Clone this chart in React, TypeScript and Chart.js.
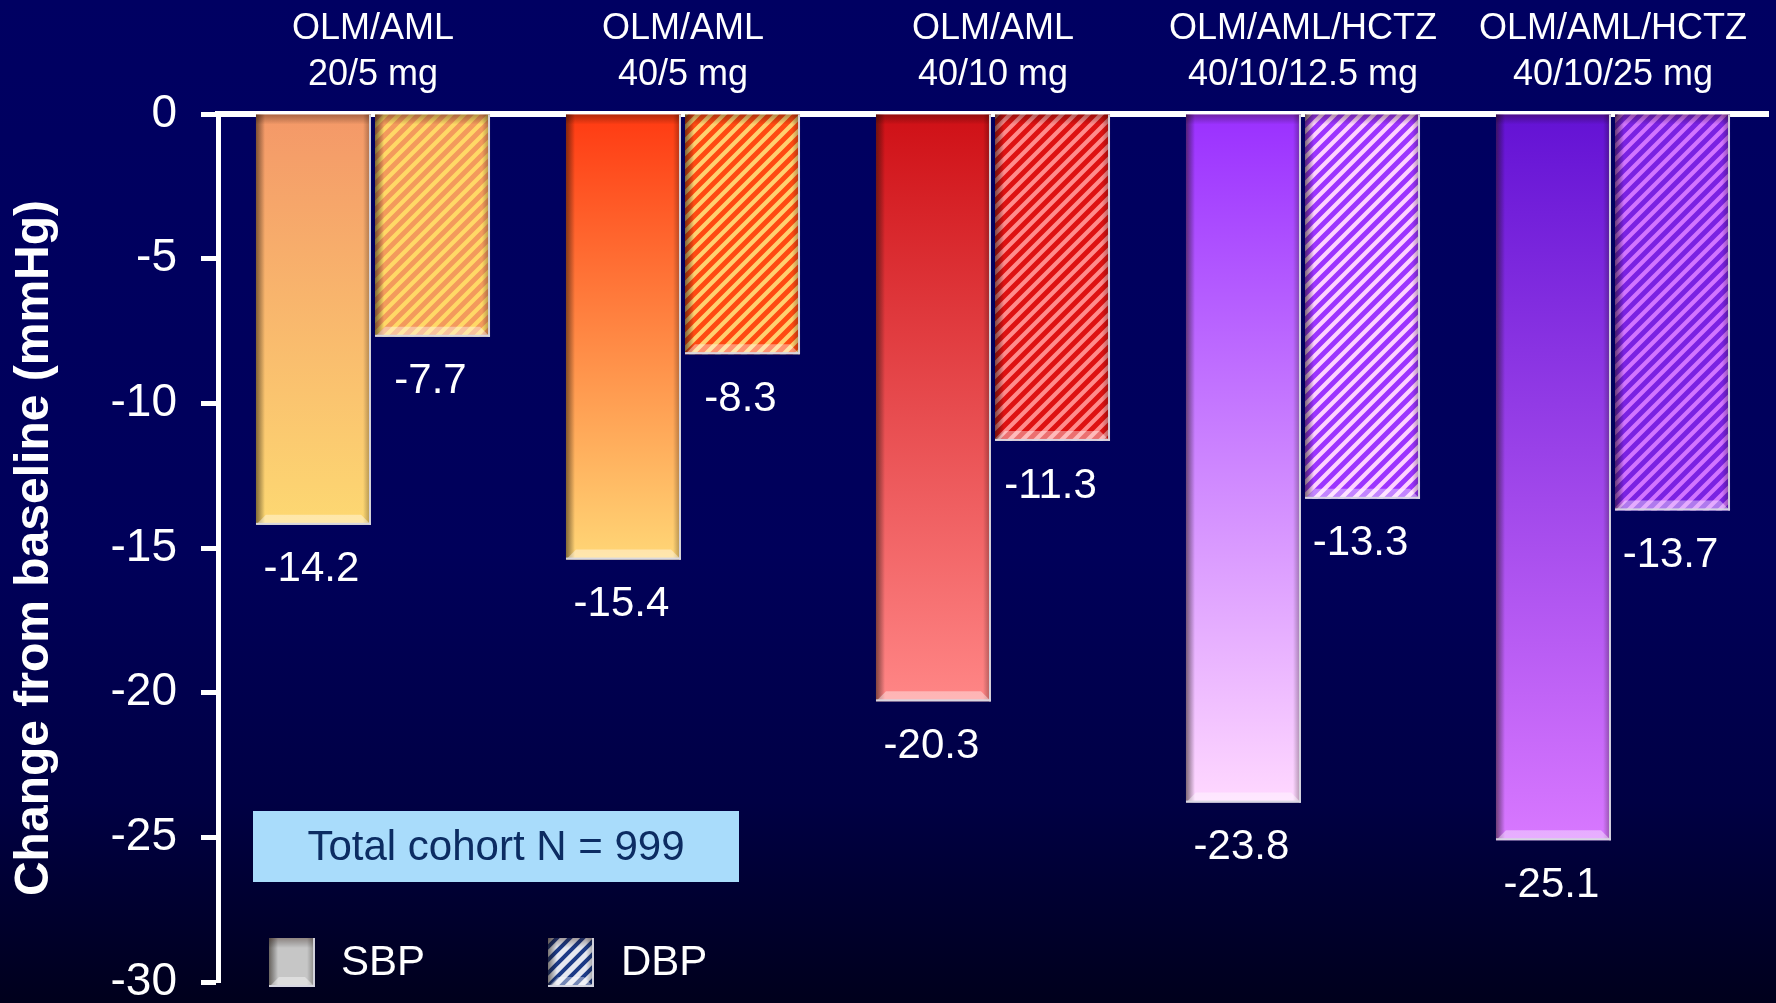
import React, { useEffect, useRef } from "react";
import { Chart, registerables } from "chart.js";

Chart.register(...registerables);

// Dose groups (two-line labels along the top axis)
const categories: string[][] = [
  ["OLM/AML", "20/5 mg"],
  ["OLM/AML", "40/5 mg"],
  ["OLM/AML", "40/10 mg"],
  ["OLM/AML/HCTZ", "40/10/12.5 mg"],
  ["OLM/AML/HCTZ", "40/10/25 mg"],
];

// Mean change from baseline (mmHg)
const sbpValues = [-14.2, -15.4, -20.3, -23.8, -25.1];
const dbpValues = [-7.7, -8.3, -11.3, -13.3, -13.7];

const yTicks = [0, -5, -10, -15, -20, -25, -30];
const seriesNames = ["SBP", "DBP"];
const axisTitle = "Change from baseline (mmHg)";
const cohortNote = "Total cohort N = 999";

// SBP bars: vertical gradient from the zero line to the bar end
const sbpTopColors = ["#F49868", "#FF3A12", "#CF1016", "#9A30FF", "#6312D4"];
const sbpBottomColors = ["#FDD872", "#FFD676", "#FF8686", "#FFD8FF", "#D878FF"];

// DBP bars: diagonal hatch
const dbpStripeColors = ["#F39A5C", "#FF4A12", "#DE1212", "#9C34FF", "#7A22E2"];
const dbpBaseColors = ["#FFD866", "#FFD070", "#FF8C8C", "#FFD2FF", "#D274FF"];

const FONT = "'Liberation Sans', Arial, Helvetica, sans-serif";

function makeStripes(base: string, stripe: string, size: number, lineW: number): CanvasPattern | string {
  const c = document.createElement("canvas");
  c.width = size;
  c.height = size;
  const g = c.getContext("2d");
  if (!g) return base;
  g.fillStyle = base;
  g.fillRect(0, 0, size, size);
  g.strokeStyle = stripe;
  g.lineWidth = lineW;
  g.lineCap = "square";
  g.beginPath();
  g.moveTo(0, size);
  g.lineTo(size, 0);
  g.moveTo(-size / 2, size / 2);
  g.lineTo(size / 2, -size / 2);
  g.moveTo(size / 2, size * 1.5);
  g.lineTo(size * 1.5, size / 2);
  g.stroke();
  const p = g.createPattern(c, "repeat");
  return p || base;
}

function drawBevel(ctx: CanvasRenderingContext2D, left: number, top: number, right: number, bottom: number) {
  const w = right - left;
  const h = bottom - top;
  if (h <= 0 || w <= 0) return;
  ctx.save();
  // shaded left edge
  let g = ctx.createLinearGradient(left, 0, left + 9, 0);
  g.addColorStop(0, "rgba(30,20,10,0.55)");
  g.addColorStop(1, "rgba(0,0,0,0)");
  ctx.fillStyle = g;
  ctx.fillRect(left, top, 9, h);
  // shaded right edge
  g = ctx.createLinearGradient(right - 8, 0, right, 0);
  g.addColorStop(0, "rgba(0,0,0,0)");
  g.addColorStop(1, "rgba(20,10,0,0.35)");
  ctx.fillStyle = g;
  ctx.fillRect(right - 8, top, 8, h);
  // shaded top edge
  g = ctx.createLinearGradient(0, top, 0, top + 10);
  g.addColorStop(0, "rgba(40,10,0,0.35)");
  g.addColorStop(1, "rgba(0,0,0,0)");
  ctx.fillStyle = g;
  ctx.fillRect(left, top, w, 10);
  // lit bottom facet
  const b = Math.min(10, h / 2);
  ctx.beginPath();
  ctx.moveTo(left, bottom);
  ctx.lineTo(right, bottom);
  ctx.lineTo(right - b, bottom - b);
  ctx.lineTo(left + b, bottom - b);
  ctx.closePath();
  ctx.fillStyle = "rgba(255,255,255,0.4)";
  ctx.fill();
  // thin light rims on the right and bottom
  ctx.fillStyle = "rgba(215,215,225,0.95)";
  ctx.fillRect(right - 2, top, 2, h);
  ctx.fillRect(left, bottom - 2, w, 2);
  ctx.restore();
}

const backgroundPlugin = {
  id: "slideBackground",
  beforeDraw(chart: Chart) {
    const { ctx, width, height } = chart;
    ctx.save();
    const g = ctx.createLinearGradient(0, 0, 0, height);
    g.addColorStop(0, "#000062");
    g.addColorStop(0.55, "#00005A");
    g.addColorStop(0.8, "#000044");
    g.addColorStop(1, "#00001C");
    ctx.fillStyle = g;
    ctx.fillRect(0, 0, width, height);
    ctx.restore();
  },
};

const barDecorPlugin = {
  id: "barDecor",
  afterDatasetsDraw(chart: Chart) {
    const { ctx } = chart;
    chart.data.datasets.forEach((ds, di) => {
      const meta = chart.getDatasetMeta(di);
      meta.data.forEach((el: any, i: number) => {
        const half = el.width / 2;
        const top = Math.min(el.y, el.base);
        const bottom = Math.max(el.y, el.base);
        drawBevel(ctx, el.x - half, top, el.x + half, bottom);
        const v = ds.data[i] as number;
        ctx.save();
        ctx.fillStyle = "#FFFFFF";
        ctx.font = `42px ${FONT}`;
        ctx.textAlign = "center";
        ctx.textBaseline = "middle";
        ctx.fillText(v.toFixed(1), el.x - 2, bottom + 45);
        ctx.restore();
      });
    });
  },
};

const notesPlugin = {
  id: "notesAndLegend",
  afterDraw(chart: Chart) {
    const { ctx, chartArea } = chart;
    const L = chartArea.left;
    ctx.save();
    // cohort box
    const bx = L + 35;
    const by = 811;
    const bw = 486;
    const bh = 71;
    ctx.fillStyle = "#A9DCFB";
    ctx.fillRect(bx, by, bw, bh);
    ctx.fillStyle = "#0C2C62";
    ctx.font = `42px ${FONT}`;
    ctx.textAlign = "center";
    ctx.textBaseline = "middle";
    ctx.fillText(cohortNote, bx + bw / 2, by + bh / 2 + 2);

    // legend
    const sy = 938;
    const ss = 47;
    const sbpX = L + 51;
    const dbpX = L + 330;
    ctx.fillStyle = "#C6C6C6";
    ctx.fillRect(sbpX, sy, ss - 1, ss + 2);
    drawBevel(ctx, sbpX, sy, sbpX + ss - 1, sy + ss + 2);
    ctx.fillStyle = makeStripes("#E6E8F0", "#1C3A86", 13, 4);
    ctx.fillRect(dbpX, sy, ss - 1, ss + 2);
    drawBevel(ctx, dbpX, sy, dbpX + ss - 1, sy + ss + 2);

    ctx.fillStyle = "#FFFFFF";
    ctx.font = `42px ${FONT}`;
    ctx.textAlign = "left";
    ctx.textBaseline = "middle";
    ctx.fillText(seriesNames[0], sbpX + 72, sy + 25);
    ctx.fillText(seriesNames[1], dbpX + 73, sy + 25);
    ctx.restore();
  },
};

export default function App() {
  const canvasRef = useRef<HTMLCanvasElement>(null);

  useEffect(() => {
    document.body.style.margin = "0";
    document.body.style.overflow = "hidden";
    const canvas = canvasRef.current;
    if (!canvas) return;

    const sbpColor = (ctx: any) => {
      const chart = ctx.chart as Chart;
      const y = chart.scales.y;
      const i = ctx.dataIndex ?? 0;
      if (!y || !chart.chartArea) return sbpTopColors[i];
      const y0 = y.getPixelForValue(0);
      const y1 = y.getPixelForValue(sbpValues[i]);
      const g = chart.ctx.createLinearGradient(0, y0, 0, y1);
      g.addColorStop(0, sbpTopColors[i]);
      g.addColorStop(1, sbpBottomColors[i]);
      return g;
    };

    const dbpPatterns = dbpBaseColors.map((b, i) => makeStripes(b, dbpStripeColors[i], 13, 5));

    const chart = new Chart(canvas, {
      type: "bar",
      data: {
        labels: categories,
        datasets: [
          {
            label: seriesNames[0],
            data: sbpValues,
            backgroundColor: sbpColor,
            borderWidth: 0,
            categoryPercentage: 0.768,
            barPercentage: 0.966,
          },
          {
            label: seriesNames[1],
            data: dbpValues,
            backgroundColor: dbpPatterns as any,
            borderWidth: 0,
            categoryPercentage: 0.768,
            barPercentage: 0.966,
          },
        ],
      },
      options: {
        responsive: false,
        animation: false,
        devicePixelRatio: 1,
        layout: { padding: { left: 0, top: 0, right: 8, bottom: 21 } },
        plugins: {
          legend: { display: false },
          tooltip: { enabled: false },
        },
        scales: {
          x: {
            position: "top",
            z: 1,
            offset: true,
            grid: { display: false, drawTicks: false },
            border: { display: true, color: "#FFFFFF", width: 6 },
            ticks: {
              color: "#FFFFFF",
              padding: 16,
              maxRotation: 0,
              autoSkip: false,
              font: { family: FONT, size: 36, lineHeight: 1.28 },
            },
            afterFit: (s: any) => {
              s.height = 114;
              s.paddingLeft = 0;
              s.paddingRight = 0;
            },
          },
          y: {
            min: -30,
            max: 0,
            afterBuildTicks: (s: any) => {
              s.ticks = yTicks.map((v) => ({ value: v }));
            },
            grid: {
              display: true,
              drawOnChartArea: false,
              drawTicks: true,
              tickLength: 17,
              tickWidth: 5,
              tickColor: "#FFFFFF",
              color: "#FFFFFF",
            },
            border: { display: true, color: "#FFFFFF", width: 5 },
            ticks: {
              color: "#FFFFFF",
              padding: 24,
              font: { family: FONT, size: 46 },
              callback: (v: any) => String(v),
            },
            title: {
              display: true,
              text: axisTitle,
              color: "#FFFFFF",
              padding: { top: 6, bottom: 0 },
              font: { family: FONT, size: 48, weight: "bold" },
            },
            afterFit: (s: any) => {
              s.width = 218;
              s.paddingTop = 0;
              s.paddingBottom = 0;
            },
          },
        },
      },
      plugins: [backgroundPlugin, barDecorPlugin, notesPlugin],
    });

    return () => chart.destroy();
  }, []);

  return (
    <div style={{ width: 1776, height: 1003 }}>
      <canvas ref={canvasRef} width={1776} height={1003} style={{ display: "block" }} />
    </div>
  );
}
